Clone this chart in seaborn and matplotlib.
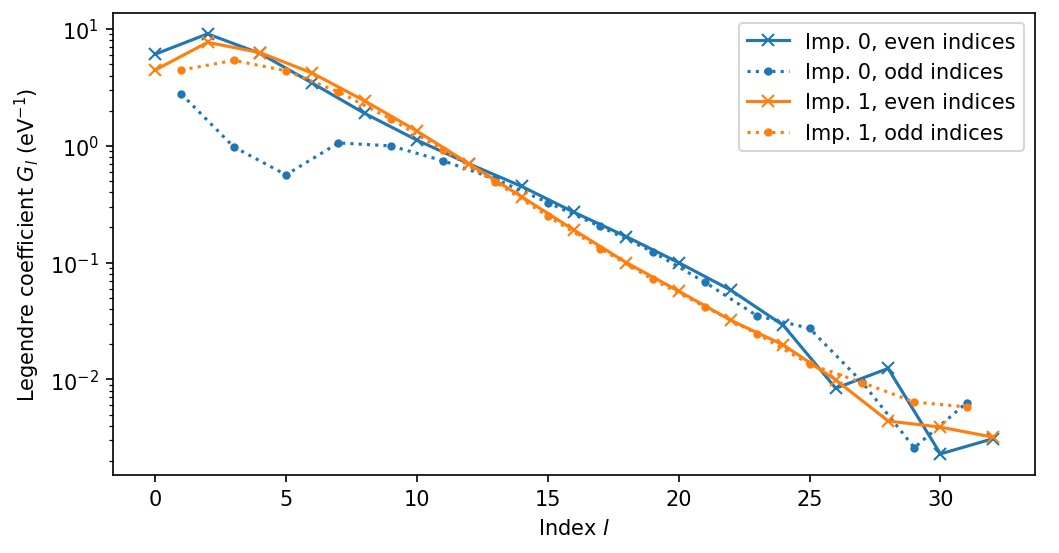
import numpy as np
import pandas as pd
import matplotlib
matplotlib.use('Agg')
import matplotlib.pyplot as plt
import seaborn as sns

# keep plain matplotlib look (black text, default ticks)
plt.rcParams['font.family'] = ['DejaVu Sans']

# %% Data
even_idx = list(range(0, 33, 2))
odd_idx = list(range(1, 32, 2))

imp0_even = [6.1, 9.1, 6.2, 3.45, 1.9, 1.12, 0.70, 0.45, 0.27, 0.167, 0.100,
             0.058, 0.029, 0.0084, 0.0124, 0.0023, 0.0031]
imp0_odd = [2.78, 0.98, 0.565, 1.06, 1.0, 0.745, 0.52, 0.327, 0.204, 0.124,
            0.068, 0.035, 0.0274, 0.0095, 0.0026, 0.0063]
imp1_even = [4.46, 7.7, 6.3, 4.2, 2.43, 1.34, 0.70, 0.367, 0.19, 0.100, 0.057,
             0.032, 0.0197, 0.0099, 0.0044, 0.0039, 0.0032]
imp1_odd = [4.46, 5.4, 4.4, 2.9, 1.7, 0.92, 0.49, 0.25, 0.132, 0.072, 0.042,
            0.0245, 0.0135, 0.0094, 0.0064, 0.0058]

series = [
    ('Imp. 0, even indices', even_idx, imp0_even, 0, '-', 'x'),
    ('Imp. 0, odd indices', odd_idx, imp0_odd, 0, ':', '.'),
    ('Imp. 1, even indices', even_idx, imp1_even, 1, '-', 'x'),
    ('Imp. 1, odd indices', odd_idx, imp1_odd, 1, ':', '.'),
]

# %% Plot
fig, ax = plt.subplots(figsize=(7.06, 3.693), dpi=150)
colors = sns.color_palette('tab10')
for label, xs, ys, ci, ls, mk in series:
    col = colors[ci]
    sns.lineplot(x=xs, y=ys, ax=ax, color=col, linestyle=ls, marker=mk,
                 markersize=6, markeredgecolor=col, markeredgewidth=1.0,
                 linewidth=1.5, label=label)

ax.set_yscale('log')
ax.set_xlabel(r'Index $l$')
ax.set_ylabel(r'Legendre coefficient $G_l$ (eV$^{-1}$)')
ax.legend(loc='upper right')
fig.subplots_adjust(left=0.107, right=0.977, top=0.975, bottom=0.141)
fig.savefig('out.png', dpi=150)
